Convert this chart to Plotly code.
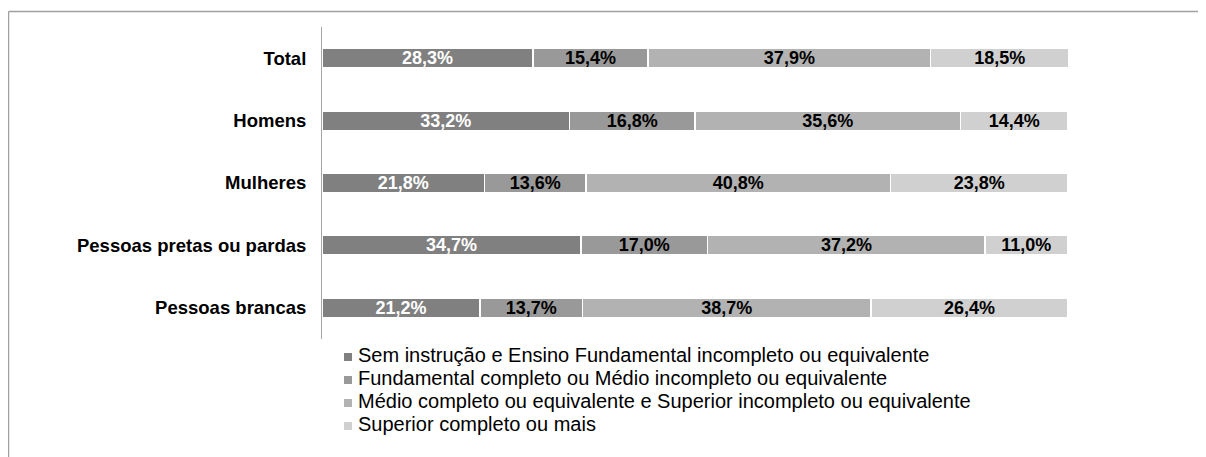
import plotly.graph_objects as go

categories = ["Total", "Homens", "Mulheres", "Pessoas pretas ou pardas", "Pessoas brancas"]
series_names = [
    "Sem instrução e Ensino Fundamental incompleto ou equivalente",
    "Fundamental completo ou Médio incompleto ou equivalente",
    "Médio completo ou equivalente e Superior incompleto ou equivalente",
    "Superior completo ou mais",
]
sem_instrucao = [28.3, 33.2, 21.8, 34.7, 21.2]
fundamental = [15.4, 16.8, 13.6, 17.0, 13.7]
medio = [37.9, 35.6, 40.8, 37.2, 38.7]
superior = [18.5, 14.4, 23.8, 11.0, 26.4]
series_values = [sem_instrucao, fundamental, medio, superior]

colors = ["#808080", "#999999", "#b2b2b2", "#d0d0d0"]
text_colors = ["#ffffff", "#000000", "#000000", "#000000"]

# page body has an 8px margin: figure pixel = screen pixel - 8
OFF = 8
W, H = 1206 - OFF, 457 - OFF
L, R, T, B = 314, 138, 19, 118
pw, ph = W - L - R, H - T - B


def px_x(sx):
    return (sx - OFF - L) / pw


def px_y(sy):
    return (H - B - (sy - OFF)) / ph


fig = go.Figure()
for name, vals, col, tcol in zip(series_names, series_values, colors, text_colors):
    fig.add_trace(go.Bar(
        y=categories, x=vals, name=name, orientation="h",
        marker=dict(color=col, line=dict(color="#ffffff", width=1.5)),
        text=[f"{v:.1f}%".replace(".", ",") for v in vals],
        textposition="inside", insidetextanchor="middle",
        textfont=dict(family="Liberation Sans, Arial", size=18, color=tcol, weight="bold"),
        constraintext="none",
        hoverinfo="skip",
        showlegend=False,
    ))

# legend drawn as real text annotations with small square swatches
row_centers = [355, 378, 401, 424]
annotations = []
shapes = [
    dict(type="line", xref="paper", yref="paper",
         x0=px_x(8.5), x1=px_x(1215), y0=px_y(11.5), y1=px_y(11.5),
         line=dict(color="#a0a0a0", width=1.5)),
    dict(type="line", xref="paper", yref="paper",
         x0=px_x(8.5), x1=px_x(8.5), y0=px_y(11.5), y1=px_y(470),
         line=dict(color="#a0a0a0", width=1.5)),
]
for name, col, yc in zip(series_names, colors, row_centers):
    annotations.append(dict(
        xref="paper", yref="paper", x=px_x(356), y=px_y(yc),
        xanchor="left", yanchor="middle", showarrow=False, text=name,
        font=dict(family="Liberation Sans, Arial", size=20, color="#000000"),
    ))
    shapes.append(dict(
        type="rect", xref="paper", yref="paper",
        x0=px_x(344), x1=px_x(352), y0=px_y(yc - 2), y1=px_y(yc + 6),
        fillcolor=col, line=dict(width=0),
    ))

fig.update_layout(
    width=W, height=H,
    barmode="stack", bargap=0.6875,
    margin=dict(l=L, r=R, t=T, b=B, pad=0),
    paper_bgcolor="white", plot_bgcolor="white",
    font=dict(family="Liberation Sans, Arial", color="#000000"),
    xaxis=dict(range=[0, 100], visible=False, fixedrange=True),
    yaxis=dict(
        autorange="reversed", showline=True, linecolor="#a6a6a6", linewidth=1,
        ticks="", showgrid=False, zeroline=False, fixedrange=True,
        tickfont=dict(family="Liberation Sans, Arial", size=18.5, color="#000000", weight="bold"),
        ticklabelstandoff=11,
    ),
    showlegend=False,
    shapes=shapes,
    annotations=annotations,
)

fig.write_html("out.html")
